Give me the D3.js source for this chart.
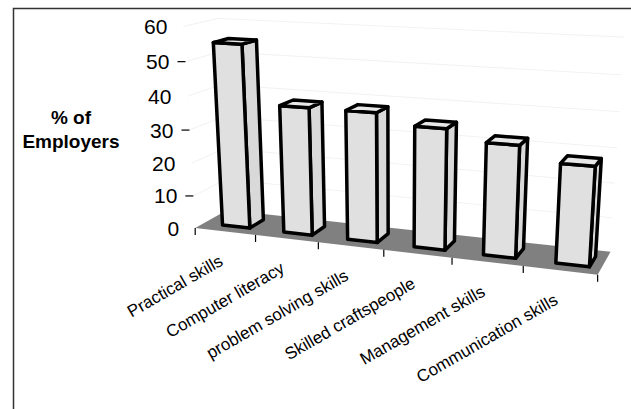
<!DOCTYPE html>
<html>
<head>
<meta charset="utf-8">
<script src="https://cdn.jsdelivr.net/npm/d3@7"></script>
<style>
  body { margin: 0; background: #fff; }
  svg { font-family: "Liberation Sans", Arial, sans-serif; }
</style>
</head>
<body>
<div id="chart"></div>
<script>
// chart data
const categories = ["Practical skills", "Computer literacy", "problem solving skills",
  "Skilled craftspeople", "Management skills", "Communication skills"];
const values = [55, 38, 38, 35, 32, 28];
const yLabels = [0, 10, 20, 30, 40, 50, 60];
const yMarks = [10, 30, 50];
const gridValues = [10, 20, 30, 40, 50, 60];

const W = 631, H = 409;
const n = categories.length;

// world: x along categories, y up, z going back
const depth = 1;
const x = d3.scaleBand().domain(categories).range([0.03, 6.12])
  .paddingInner(0.55).paddingOuter(0.275);
const xEdge = d3.scaleLinear().domain([0, n]).range([0, n]);
const y = d3.scaleLinear().domain([0, 60]).range([0, 2.97]);
const barZ = [0.275, 0.725];

// perspective camera
const yaw = 20 * Math.PI / 180, pitch = 18 * Math.PI / 180;
const dist = 16, focal = 1110, cx = 396, cy = 239.5;
const target = [n / 2, 0, depth / 2];
const ca = Math.cos(yaw), sa = Math.sin(yaw), cb = Math.cos(pitch), sb = Math.sin(pitch);

function project(px, py, pz) {
  const dx = px - target[0], dy = py - target[1], dz = pz - target[2];
  const a = dx * ca + dz * sa;
  const b = -dx * sa + dz * ca;
  const yv = b * sb + dy * cb;
  const zv = b * cb - dy * sb + dist;
  return [cx + focal * a / zv, cy - focal * yv / zv];
}
const poly = pts => "M" + pts.map(p => project(...p).join(",")).join("L") + "Z";

const svg = d3.select("#chart").append("svg")
  .attr("width", W).attr("height", H);

// frame
svg.append("rect")
  .attr("x", 13.5).attr("y", 8.5)
  .attr("width", W).attr("height", H)
  .attr("fill", "none").attr("stroke", "#333").attr("stroke-width", 1.5);

// faint wall gridlines
svg.selectAll(".grid")
  .data(gridValues)
  .join("path")
  .attr("d", v => "M" + [project(0, y(v), 0), project(0, y(v), depth), project(n, y(v), depth)]
    .map(p => p.join(",")).join("L"))
  .attr("fill", "none")
  .attr("stroke", "#f2f2f2")
  .attr("stroke-width", 1);

// floor
svg.append("path")
  .attr("d", poly([[0, 0, 0], [n, 0, 0], [n, 0, depth], [0, 0, depth]]))
  .attr("fill", "#808080");

// bars, drawn back (left) to front (right)
const bars = svg.selectAll(".bar")
  .data(categories.map((c, i) => ({ c, v: values[i] })))
  .join("g").attr("class", "bar");

const faces = d => {
  const x0 = x(d.c), x1 = x0 + x.bandwidth(), h = y(d.v);
  const [z0, z1] = barZ;
  return [
    { d: poly([[x1, 0, z0], [x1, 0, z1], [x1, h, z1], [x1, h, z0]]), fill: "#d9d9d9" },
    { d: poly([[x0, 0, z0], [x1, 0, z0], [x1, h, z0], [x0, h, z0]]), fill: "#e0e0e0" },
    { d: poly([[x0, h, z0], [x1, h, z0], [x1, h, z1], [x0, h, z1]]), fill: "#e8e8e8" }
  ];
};
bars.selectAll("path")
  .data(faces)
  .join("path")
  .attr("d", f => f.d)
  .attr("fill", f => f.fill)
  .attr("stroke", "#000")
  .attr("stroke-width", 3.5)
  .attr("stroke-linejoin", "round");

// category ticks on the front edge
svg.selectAll(".xtick")
  .data(d3.range(n + 1))
  .join("line")
  .attr("x1", i => project(xEdge(i), 0, 0)[0])
  .attr("y1", i => project(xEdge(i), 0, 0)[1])
  .attr("x2", i => project(xEdge(i), 0, 0)[0])
  .attr("y2", i => project(xEdge(i), 0, 0)[1] + 7)
  .attr("stroke", "#000").attr("stroke-width", 1.2);

// category labels
svg.selectAll(".xlabel")
  .data(categories)
  .join("text")
  .attr("transform", (c, i) => {
    const p = project(xEdge(i + 0.5), 0, 0);
    return `translate(${p[0] - 1},${p[1] + 33}) rotate(-30)`;
  })
  .attr("text-anchor", "end")
  .style("font-size", "17px")
  .attr("fill", "#000")
  .text(c => c);

// value axis at the front-left corner
svg.selectAll(".ymark")
  .data(yMarks)
  .join("line")
  .attr("x1", v => project(0, y(v), 0)[0] - 8)
  .attr("x2", v => project(0, y(v), 0)[0])
  .attr("y1", v => project(0, y(v), 0)[1])
  .attr("y2", v => project(0, y(v), 0)[1])
  .attr("stroke", "#000").attr("stroke-width", 1.2);

svg.selectAll(".ylabel")
  .data(yLabels)
  .join("text")
  .attr("x", v => project(0, y(v), 0)[0] - 16)
  .attr("y", v => project(0, y(v), 0)[1])
  .attr("dy", "0.36em")
  .attr("text-anchor", "end")
  .style("font-size", "21px")
  .text(v => v);

// axis title
const title = svg.append("text")
  .attr("text-anchor", "middle")
  .style("font-size", "19px")
  .style("font-weight", "bold");
title.append("tspan").attr("x", 71).attr("y", 124).text("% of");
title.append("tspan").attr("x", 71).attr("y", 148).text("Employers");
</script>
</body>
</html>
